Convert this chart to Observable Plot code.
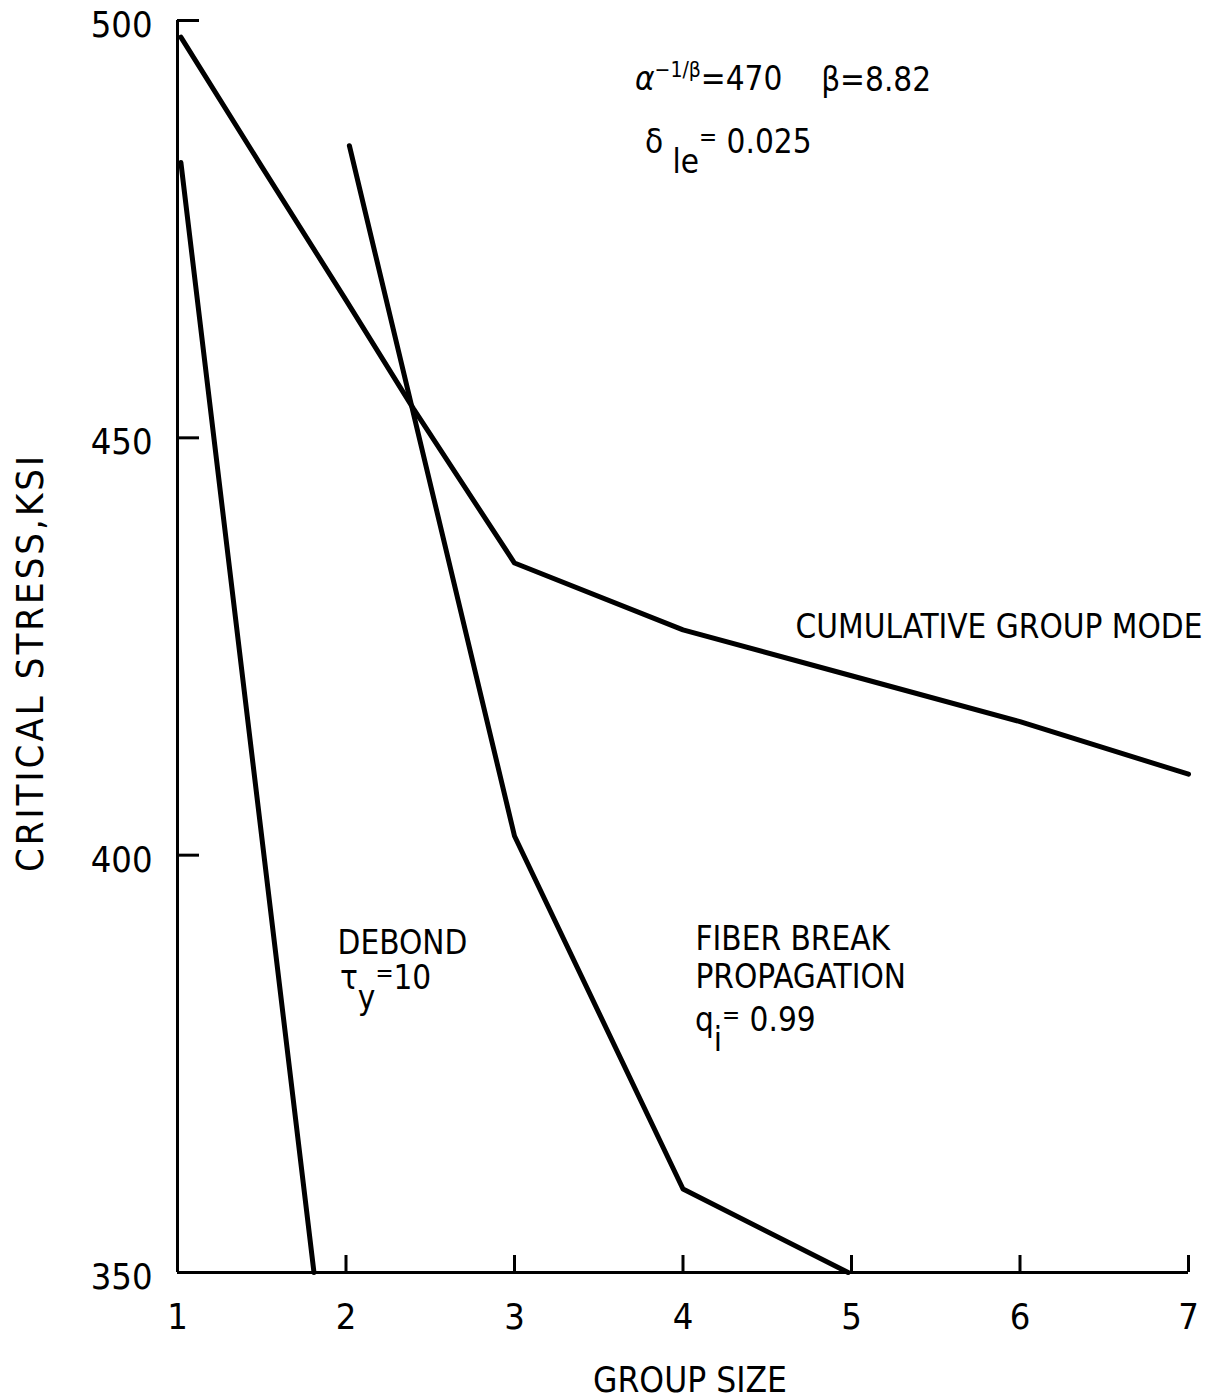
<!DOCTYPE html>
<html><head><meta charset="utf-8">
<script src="https://cdn.jsdelivr.net/npm/d3@7"></script>
<script src="https://cdn.jsdelivr.net/npm/@observablehq/plot@0.6"></script>
<style>body{margin:0;background:#fff} #chart{position:absolute;left:0;top:0}</style>
</head><body><div id="chart"></div>
<script>
// ---- data ----
const groupSizeTicks = [1, 2, 3, 4, 5, 6, 7];
const stressTicks = [350, 400, 450, 500];
const xDomain = [1, 7];
const yDomain = [350, 500];

const cumulativeGroupSize = [1.02, 1.5, 2, 2.4, 3, 4, 5, 6, 7];
const cumulativeStress    = [498, 482.5, 466.5, 453.5, 435, 427, 421.5, 416, 409.7];

const fiberGroupSize = [2.02, 3, 4, 4.98];
const fiberStress    = [485, 402.3, 360, 350];

const debondGroupSize = [1.02, 1.81];
const debondStress    = [483, 350];

const plainLabels = [
  {x: 1.95, y: 388.2, text: "DEBOND"},
  {x: 4.074, y: 384.1, text: "FIBER BREAK\nPROPAGATION"},
  {x: 4.668, y: 426.05, text: "CUMULATIVE GROUP MODE"},
  {x: 4.82, y: 491.6, text: "β=8.82"}
];
// rich labels: parts [text, role] role: "" normal, "sup", "sub", "it", "small"
const richLabels = [
  {x: 3.718, y: 491.6, parts: [["α", "it"], ["−1/β", "sup"], ["=470", ""]]},
  {x: 3.777, y: 484.1, parts: [["δ ", ""], ["le", "sub"], ["=", "small"], [" 0.025", ""]]},
  {x: 1.967, y: 383.9, parts: [["τ", ""], ["y", "sub"], ["=", "small"], ["10", ""]]},
  {x: 4.074, y: 378.9, parts: [["q", ""], ["i", "sub"], ["=", "small"], [" 0.99", ""]]}
];

const xTitle = "GROUP SIZE";
const yTitle = "CRITICAL STRESS,KSI";

// ---- layout ----
const FONT = '"Liberation Sans Narrow","DejaVu Sans Condensed","Roboto Condensed",sans-serif';
const W = 1205, H = 1398, mL = 177, mR = 17, mT = 20, mB = 126;
const innerW = W - mL - mR, innerH = H - mT - mB;
const rows = (xs, ys) => xs.map((x, i) => ({x, y: ys[i]}));

const lineStyle = {x: "x", y: "y", stroke: "#000", strokeWidth: 5, strokeLinecap: "round", strokeLinejoin: "round"};

const plot = Plot.plot({
  width: W, height: H,
  marginLeft: mL, marginRight: mR, marginTop: mT, marginBottom: mB,
  style: {fontFamily: FONT, fontSize: "33px", color: "#000", background: "#fff", overflow: "visible"},
  x: {domain: xDomain},
  y: {domain: yDomain},
  marks: [
    Plot.ruleX([xDomain[0]], {stroke: "#000", strokeWidth: 3}),
    Plot.ruleY([yDomain[0]], {stroke: "#000", strokeWidth: 3}),
    Plot.tickX(groupSizeTicks.slice(1), {x: d => d, stroke: "#000", strokeWidth: 3, insetTop: innerH - 17}),
    Plot.tickY(stressTicks.slice(1), {y: d => d, stroke: "#000", strokeWidth: 3, insetRight: innerW - 22}),
    Plot.axisX({ticks: groupSizeTicks, tickFormat: d3.format("d"), tickSize: 0, tickPadding: 31, label: null, fontSize: 36}),
    Plot.axisY({ticks: stressTicks, tickFormat: d3.format("d"), tickSize: 0, tickPadding: 25, label: null, dy: 5, fontSize: 36}),
    Plot.text([xTitle], {frameAnchor: "bottom", dy: 119, dx: 7, fontSize: 35, lineAnchor: "bottom"}),
    Plot.text([yTitle], {frameAnchor: "left", textAnchor: "middle", dx: -147, dy: 16, rotate: -90, fontSize: 38}),
    Plot.line(rows(cumulativeGroupSize, cumulativeStress), lineStyle),
    Plot.line(rows(fiberGroupSize, fiberStress), lineStyle),
    Plot.line(rows(debondGroupSize, debondStress), lineStyle),
    Plot.text(plainLabels, {x: "x", y: "y", text: "text", textAnchor: "start", lineAnchor: "bottom",
      fontSize: 33, lineHeight: 1.14, fill: "#000"})
  ]
});

// letter spacing for the spaced-out y title
d3.select(plot).selectAll("text")
  .filter(function () { return this.textContent === yTitle; })
  .attr("letter-spacing", 3);

// rich text labels (sub/superscripts) positioned through Plot's scales
const sx = plot.scale("x"), sy = plot.scale("y");
const g = d3.select(plot).append("g")
  .attr("font-family", FONT).attr("font-size", 33).attr("fill", "#000")
  .attr("text-anchor", "start");
for (const lab of richLabels) {
  const t = g.append("text").attr("text-anchor", "start")
    .attr("x", sx.apply(lab.x)).attr("y", sy.apply(lab.y));
  let off = 0;
  for (const [txt, role] of lab.parts) {
    const target = role === "sup" ? -13 : role === "sub" ? 20 : role === "small" ? -8 : 0;
    const ts = t.append("tspan").text(txt).attr("dy", target - off);
    if (role === "sup") ts.attr("font-size", 21);
    if (role === "small") ts.attr("font-size", 24);
    if (role === "it") ts.attr("font-style", "italic");
    off = target;
  }
}

document.getElementById("chart").appendChild(plot);
</script>
</body></html>
